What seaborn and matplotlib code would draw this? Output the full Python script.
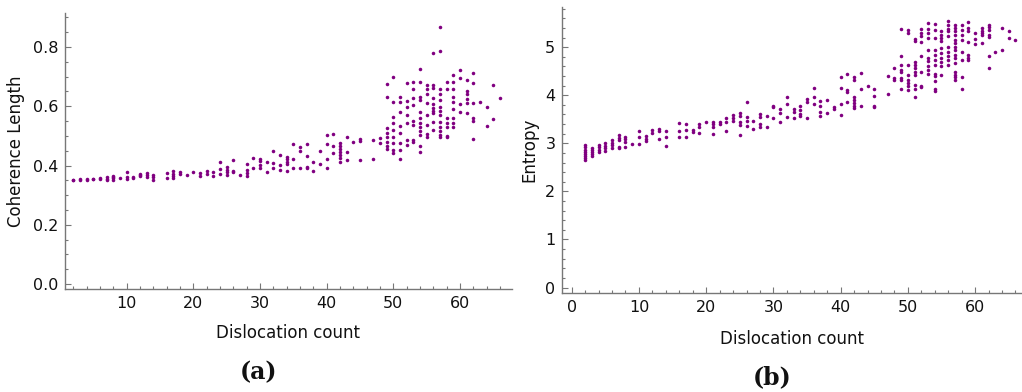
import numpy as np
import pandas as pd
import matplotlib
matplotlib.use("Agg")
import matplotlib.pyplot as plt
import seaborn as sns
from matplotlib.ticker import MultipleLocator, FormatStrFormatter

# ---- data: coherence length per dislocation count ----
coh = {
    2: [0.350, 0.352], 3: [0.350, 0.353], 4: [0.352, 0.354], 5: [0.353, 0.355],
    6: [0.355, 0.358], 7: [0.352, 0.356, 0.361], 8: [0.352, 0.357, 0.362, 0.365],
    9: [0.357], 10: [0.377, 0.362, 0.355], 11: [0.360, 0.357],
    12: [0.373, 0.363, 0.368], 13: [0.376, 0.368, 0.360], 14: [0.367, 0.352, 0.360],
    16: [0.375, 0.357], 17: [0.382, 0.373, 0.366, 0.357], 18: [0.379, 0.371],
    19: [0.368], 20: [0.379], 21: [0.376, 0.366], 22: [0.382, 0.373],
    23: [0.379, 0.366], 24: [0.413, 0.388, 0.373], 25: [0.394, 0.385, 0.377, 0.368],
    26: [0.419, 0.381, 0.377], 27: [0.368], 28: [0.404, 0.385, 0.374, 0.366],
    29: [0.424, 0.393], 30: [0.422, 0.415, 0.402, 0.390], 31: [0.413, 0.377],
    32: [0.450, 0.407, 0.393], 33: [0.435, 0.402, 0.385],
    34: [0.430, 0.421, 0.413, 0.405, 0.383], 35: [0.473, 0.421, 0.390],
    36: [0.464, 0.449, 0.390], 37: [0.471, 0.432, 0.396, 0.390], 38: [0.413, 0.381],
    39: [0.449, 0.405], 40: [0.503, 0.471, 0.421, 0.393], 41: [0.505, 0.467, 0.441],
    42: [0.475, 0.465, 0.455, 0.445, 0.435, 0.425, 0.413], 43: [0.495, 0.447, 0.419],
    44: [0.480], 45: [0.489, 0.483, 0.419], 47: [0.486, 0.421], 48: [0.492, 0.477],
    49: [0.674, 0.630, 0.525, 0.510, 0.495, 0.480, 0.465, 0.455],
    50: [0.698, 0.613, 0.565, 0.542, 0.520, 0.497, 0.475, 0.452, 0.441],
    51: [0.630, 0.613, 0.582, 0.534, 0.509, 0.477, 0.452, 0.421],
    52: [0.677, 0.619, 0.596, 0.570, 0.542, 0.486, 0.469],
    53: [0.682, 0.657, 0.629, 0.604, 0.551, 0.537, 0.486, 0.480],
    54: [0.726, 0.682, 0.630, 0.621, 0.582, 0.559, 0.545, 0.530, 0.515, 0.503, 0.467, 0.447],
    55: [0.672, 0.660, 0.640, 0.610, 0.570, 0.537, 0.497, 0.506],
    56: [0.779, 0.672, 0.661, 0.627, 0.607, 0.595, 0.585, 0.576, 0.548, 0.520],
    57: [0.868, 0.788, 0.657, 0.640, 0.621, 0.599, 0.585, 0.570, 0.548, 0.530, 0.515, 0.503, 0.497],
    58: [0.683, 0.660, 0.560, 0.545, 0.530, 0.500, 0.495],
    59: [0.705, 0.683, 0.660, 0.632, 0.615, 0.590, 0.560, 0.545, 0.530],
    60: [0.722, 0.694, 0.607, 0.580], 61: [0.688, 0.650, 0.640, 0.625, 0.610, 0.576],
    62: [0.713, 0.680, 0.612, 0.559, 0.551, 0.489], 63: [0.613], 64: [0.598, 0.534],
    65: [0.672, 0.556], 66: [0.627],
}

# ---- data: entropy per dislocation count ----
ent = {
    2: [2.97, 2.92, 2.87, 2.82, 2.78, 2.74, 2.70, 2.66], 3: [2.90, 2.86, 2.82, 2.77, 2.73],
    4: [2.97, 2.92, 2.87, 2.81], 5: [3.00, 2.95, 2.90, 2.85], 6: [3.06, 3.00, 2.96, 2.90],
    7: [3.18, 3.12, 3.06, 2.93, 2.90], 8: [3.14, 3.08, 3.02, 2.93], 9: [2.98],
    10: [3.25, 3.14, 2.98], 11: [3.16, 3.09, 3.04], 12: [3.28, 3.21], 13: [3.30, 3.25, 3.09],
    14: [3.26, 3.14, 2.95], 16: [3.42, 3.26, 3.14], 17: [3.40, 3.28, 3.14], 18: [3.28, 3.23],
    19: [3.40, 3.33, 3.22], 20: [3.44], 21: [3.45, 3.40, 3.33, 3.20], 22: [3.45, 3.40],
    23: [3.52, 3.45, 3.25], 24: [3.59, 3.52, 3.47], 25: [3.64, 3.56, 3.44, 3.38, 3.18],
    26: [3.86, 3.54, 3.47, 3.37], 27: [3.47, 3.30], 28: [3.61, 3.54, 3.40, 3.35],
    29: [3.56, 3.35], 30: [3.78, 3.75, 3.52], 31: [3.72, 3.64, 3.45], 32: [3.96, 3.81, 3.54],
    33: [3.71, 3.65, 3.52], 34: [3.77, 3.70, 3.61, 3.57], 35: [3.92, 3.87, 3.52],
    36: [4.16, 3.97, 3.82], 37: [3.88, 3.77, 3.65, 3.56], 38: [3.90, 3.63], 39: [3.75, 3.72],
    40: [4.37, 4.15, 3.82, 3.58], 41: [4.44, 4.11, 4.06, 3.85],
    42: [4.38, 4.31, 3.97, 3.90, 3.83, 3.78, 3.73], 43: [4.47, 4.14, 3.78], 44: [4.20],
    45: [4.14, 3.99, 3.78, 3.75], 47: [4.41, 4.02], 48: [4.56, 4.35, 4.32],
    49: [5.38, 4.81, 4.63, 4.53, 4.49, 4.35, 4.32, 4.13],
    50: [5.36, 5.29, 4.63, 4.42, 4.32, 4.25, 4.20, 4.11],
    51: [5.17, 5.12, 4.70, 4.63, 4.56, 4.49, 4.42, 4.21, 4.14, 3.97],
    52: [5.37, 5.30, 5.24, 5.10, 4.82, 4.49, 4.20, 4.17],
    53: [5.51, 5.37, 5.30, 5.20, 4.94, 4.77, 4.72, 4.60, 4.53, 4.45],
    54: [5.49, 5.35, 5.19, 4.94, 4.84, 4.73, 4.63, 4.45, 4.40, 4.30, 4.13, 4.08],
    55: [5.33, 5.26, 5.19, 5.12, 4.98, 4.88, 4.77, 4.70, 4.60, 4.42],
    56: [5.55, 5.46, 5.37, 5.33, 5.24, 5.01, 4.91, 4.81, 4.74, 4.63],
    57: [5.46, 5.40, 5.33, 5.26, 5.15, 5.08, 5.01, 4.94, 4.84, 4.77, 4.67, 4.49, 4.42, 4.38, 4.32],
    58: [5.46, 5.36, 5.26, 5.15, 4.91, 4.74, 4.39, 4.13],
    59: [5.53, 5.40, 5.33, 5.10, 4.84, 4.77, 4.74], 60: [5.29, 5.17, 5.06],
    61: [5.40, 5.33, 5.29, 5.26, 5.08], 62: [5.46, 5.42, 5.36, 5.26, 5.22, 4.81, 4.56],
    63: [4.90], 64: [5.40, 4.95], 65: [5.33, 5.19], 66: [5.14],
}

def to_df(d, name):
    xs, ys = [], []
    for k, vals in d.items():
        for v in vals:
            xs.append(k)
            ys.append(v)
    return pd.DataFrame({"Dislocation count": xs, name: ys})

df_coh = to_df(coh, "Coherence Length")
df_ent = to_df(ent, "Entropy")

sns.set_theme(style="white")
plt.rcParams["font.family"] = ["DejaVu Sans"]

fig = plt.figure(figsize=(10.22, 3.92), dpi=100)
W, H = 1022, 392
ax1 = fig.add_axes([65 / W, 1 - 289 / H, (512 - 65) / W, (289 - 13) / H])
ax2 = fig.add_axes([562.3 / W, 1 - 293.3 / H, (1021.5 - 562.3) / W, (293.3 - 7.3) / H])

purple = "#800080"
sns.scatterplot(data=df_coh, x="Dislocation count", y="Coherence Length", ax=ax1,
                color=purple, s=6.5, linewidth=0)
sns.scatterplot(data=df_ent, x="Dislocation count", y="Entropy", ax=ax2,
                color=purple, s=6.5, linewidth=0)

ax1.set_xlim(0.75, 67.8)
ax1.set_ylim(-0.017, 0.915)
ax2.set_xlim(-1.4, 66.9)
ax2.set_ylim(-0.12, 5.83)

ax1.xaxis.set_major_locator(MultipleLocator(10))
ax1.xaxis.set_minor_locator(MultipleLocator(2))
ax1.yaxis.set_major_locator(MultipleLocator(0.2))
ax1.yaxis.set_minor_locator(MultipleLocator(0.05))
ax1.yaxis.set_major_formatter(FormatStrFormatter("%.1f"))
ax2.xaxis.set_major_locator(MultipleLocator(10))
ax2.xaxis.set_minor_locator(MultipleLocator(2))
ax2.yaxis.set_major_locator(MultipleLocator(1))
ax2.yaxis.set_minor_locator(MultipleLocator(0.2))

spine_c = "#777777"
for ax in (ax1, ax2):
    for s in ("top", "right"):
        ax.spines[s].set_visible(False)
    for s in ("left", "bottom"):
        ax.spines[s].set_color(spine_c)
        ax.spines[s].set_linewidth(1.0)
    ax.tick_params(which="both", direction="in", color=spine_c, width=0.8,
                   left=True, bottom=True)
    ax.tick_params(which="major", length=4.5, labelsize=11.5, labelcolor="#111111", pad=5)
    ax.tick_params(which="minor", length=2.5)
    ax.xaxis.label.set_size(12)
    ax.yaxis.label.set_size(12)
    ax.xaxis.label.set_color("#111111")
    ax.yaxis.label.set_color("#111111")
    ax.grid(False)

ax1.yaxis.set_label_coords(-0.09, 0.5)
ax1.xaxis.set_label_coords(0.5, -0.125)
ax2.yaxis.set_label_coords(-0.053, 0.5)
ax2.xaxis.set_label_coords(0.5, -0.128)

fig.text(258 / W, 1 - 372 / H, "(a)", ha="center", va="center",
         fontsize=17, fontweight="bold", family="DejaVu Serif", color="#111111")
fig.text(772 / W, 1 - 377 / H, "(b)", ha="center", va="center",
         fontsize=17, fontweight="bold", family="DejaVu Serif", color="#111111")

fig.savefig("out.png", dpi=100)
